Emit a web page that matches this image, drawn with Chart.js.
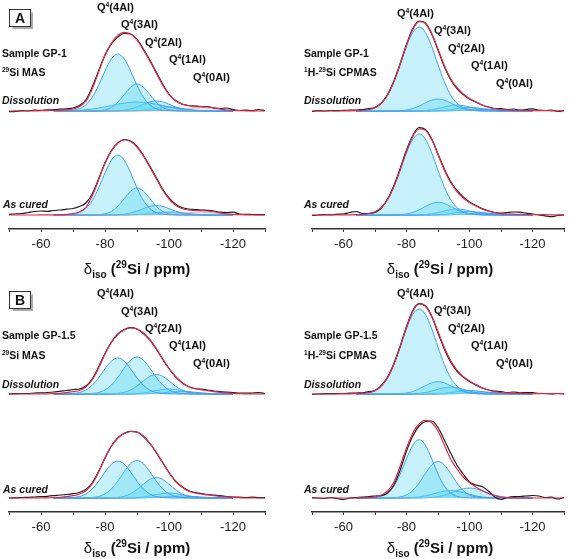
<!DOCTYPE html>
<html><head><meta charset="utf-8">
<script src="https://cdn.jsdelivr.net/npm/chart.js@4.4.1/dist/chart.umd.min.js"></script>
<style>
body{margin:0;background:#fff;}
#fig{position:relative;width:569px;height:559px;overflow:hidden;font-family:"Liberation Sans",Arial,sans-serif;color:#111;}
canvas{position:absolute;}
.t{position:absolute;white-space:nowrap;transform:translateY(-50%);line-height:1;}
.q{font-size:11px;font-weight:bold;}
.s{font-size:10.5px;font-weight:bold;}
.i{font-size:10.5px;font-weight:bold;font-style:italic;}
.sp{font-size:0.62em;position:relative;top:-0.55em;}
.box{position:absolute;width:20px;height:16px;border:1.5px solid #333;box-shadow:1.5px 1.5px 1px #aaa;font:bold 14px "Liberation Sans",Arial,sans-serif;text-align:center;line-height:16px;}
.ax{position:absolute;transform:translate(-50%,-50%);font-size:15px;font-weight:bold;white-space:nowrap;line-height:1;}
.ax .d{font-weight:normal;}
.ax .lo{font-size:10px;position:relative;top:4px;}
.ax .hi{font-size:10px;position:relative;top:-6px;}
</style></head>
<body>
<div id="fig">
  <canvas id="a1" width="285" height="280" style="left:0;top:0"></canvas>
  <canvas id="a2" width="284" height="280" style="left:285px;top:0"></canvas>
  <canvas id="b1" width="285" height="279" style="left:0;top:280px"></canvas>
  <canvas id="b2" width="284" height="279" style="left:285px;top:280px"></canvas>

  <div class="box" style="left:9px;top:9px">A</div>
  <div class="box" style="left:9px;top:291px">B</div>

  <!-- A left -->
  <div class="t q" style="left:97px;top:6.5px">Q<span class="sp">4</span>(4Al)</div>
  <div class="t q" style="left:121px;top:24px">Q<span class="sp">4</span>(3Al)</div>
  <div class="t q" style="left:145px;top:41.5px">Q<span class="sp">4</span>(2Al)</div>
  <div class="t q" style="left:169px;top:59px">Q<span class="sp">4</span>(1Al)</div>
  <div class="t q" style="left:193px;top:76.5px">Q<span class="sp">4</span>(0Al)</div>
  <div class="t s" style="left:2px;top:52.5px">Sample GP-1</div>
  <div class="t s" style="left:2px;top:72px"><span class="sp">29</span>Si MAS</div>
  <div class="t i" style="left:2px;top:99.5px">Dissolution</div>
  <div class="t i" style="left:3px;top:204px">As cured</div>

  <!-- A right -->
  <div class="t q" style="left:397px;top:13px">Q<span class="sp">4</span>(4Al)</div>
  <div class="t q" style="left:434px;top:30px">Q<span class="sp">4</span>(3Al)</div>
  <div class="t q" style="left:448px;top:47.5px">Q<span class="sp">4</span>(2Al)</div>
  <div class="t q" style="left:471px;top:65px">Q<span class="sp">4</span>(1Al)</div>
  <div class="t q" style="left:496px;top:83px">Q<span class="sp">4</span>(0Al)</div>
  <div class="t s" style="left:304px;top:52.5px">Sample GP-1</div>
  <div class="t s" style="left:304px;top:72px"><span class="sp">1</span>H-<span class="sp">29</span>Si CPMAS</div>
  <div class="t i" style="left:304px;top:99.5px">Dissolution</div>
  <div class="t i" style="left:304px;top:204px">As cured</div>

  <!-- B left -->
  <div class="t q" style="left:97px;top:293px">Q<span class="sp">4</span>(4Al)</div>
  <div class="t q" style="left:121px;top:310.5px">Q<span class="sp">4</span>(3Al)</div>
  <div class="t q" style="left:145px;top:328px">Q<span class="sp">4</span>(2Al)</div>
  <div class="t q" style="left:169px;top:345px">Q<span class="sp">4</span>(1Al)</div>
  <div class="t q" style="left:193px;top:363px">Q<span class="sp">4</span>(0Al)</div>
  <div class="t s" style="left:2px;top:335px">Sample GP-1.5</div>
  <div class="t s" style="left:2px;top:355px"><span class="sp">29</span>Si MAS</div>
  <div class="t i" style="left:2px;top:383.5px">Dissolution</div>
  <div class="t i" style="left:3px;top:488.5px">As cured</div>

  <!-- B right -->
  <div class="t q" style="left:397px;top:293px">Q<span class="sp">4</span>(4Al)</div>
  <div class="t q" style="left:434px;top:310px">Q<span class="sp">4</span>(3Al)</div>
  <div class="t q" style="left:448px;top:328px">Q<span class="sp">4</span>(2Al)</div>
  <div class="t q" style="left:471px;top:345px">Q<span class="sp">4</span>(1Al)</div>
  <div class="t q" style="left:496px;top:363px">Q<span class="sp">4</span>(0Al)</div>
  <div class="t s" style="left:304px;top:335px">Sample GP-1.5</div>
  <div class="t s" style="left:304px;top:355px"><span class="sp">1</span>H-<span class="sp">29</span>Si CPMAS</div>
  <div class="t i" style="left:304px;top:383.5px">Dissolution</div>
  <div class="t i" style="left:304px;top:488.5px">As cured</div>

  <div class="ax" style="left:137px;top:267.5px"><span class="d">δ</span><span class="lo">iso</span> (<span class="hi">29</span>Si / ppm)</div>
  <div class="ax" style="left:440px;top:267.5px"><span class="d">δ</span><span class="lo">iso</span> (<span class="hi">29</span>Si / ppm)</div>
  <div class="ax" style="left:137px;top:547px"><span class="d">δ</span><span class="lo">iso</span> (<span class="hi">29</span>Si / ppm)</div>
  <div class="ax" style="left:440px;top:547px"><span class="d">δ</span><span class="lo">iso</span> (<span class="hi">29</span>Si / ppm)</div>
</div>

<script>
/* ---- chemical shift grids (ppm) ---- */
const ppmGrid = [-50,-52,-54,-56,-58,-60,-62,-64,-66,-68,-70,-72,-74,-76,-78,-80,-82,-84,-86,-88,-90,-92,-94,-96,-98,-100,-102,-104,-106,-108,-110,-112,-114,-116,-118,-120,-122,-124,-126,-128,-130];
const compGrid = [-64,-66,-68,-70,-72,-74,-76,-78,-80,-82,-84,-86,-88,-90,-92,-94,-96,-98,-100,-102,-104,-106,-108,-110,-112,-114,-116,-118,-120];
const xTicks = [-60,-80,-100,-120];

/* ---- GP-1, 29Si MAS ---- */
const gp1MasDissExp = [-0.7,-0.3,0.3,0.2,0.8,0.6,1.2,1.3,1.8,2.2,3,5.5,11,24,40,56,67,74,77.5,77,71.5,62,51,39,27,17,10.5,7,5.5,5,4.5,4.5,3,2.5,3,1.5,0.5,0.8,0.3,1.5,0.5];
const gp1MasDissFit = [0,0,0,0,0.1,0.3,0.4,0.6,0.8,1.2,2,4.5,9.5,22,39,56,68,75.5,78.7,77,71,61,50,38,26,16.5,10.5,7,5.3,4.6,4.3,4,3.2,2,1,0.5,0.3,0.2,0.1,0,0];
const gp1MasDissComps = [
  [0,0,0.2,0.7,2.3,6.2,13.8,25.7,40,52.2,57,52.2,40,25.7,13.8,6.2,2.3,0.7,0.2,0,0,0,0,0,0,0,0,0,0],
  [0,0,0,0,0,0,0,0.3,1.2,3.6,8.8,16.4,23.8,27,23.8,16.4,8.8,3.6,1.2,0.3,0,0,0,0,0,0,0,0,0],
  [0,0.1,0.2,0.4,0.7,1.2,1.9,2.9,4.1,5.5,6.8,7.9,8.7,9,8.7,7.9,6.8,5.5,4.1,2.9,1.9,1.2,0.7,0.4,0.2,0.1,0,0,0],
  [0,0,0,0,0,0,0,0,0,0.1,0.3,0.9,2.1,4.1,6.7,9.1,10,9.1,6.7,4.1,2.1,0.9,0.3,0.1,0,0,0,0,0],
  [0,0,0,0,0,0,0,0,0,0,0,0,0.1,0.3,0.8,1.6,2.7,3.6,4,3.6,2.7,1.6,0.8,0.3,0.1,0,0,0,0]
];
const gp1MasDissTail = [0,0,0,0,0,0,0,0,0,0,0,0,0,0,0,0,0.1,0.2,0.5,1,1.7,2.5,3.2,3.5,3.2,2.5,1.7,1,0.5];
const gp1MasCuredExp = [0.7,1,1.5,2.5,3.5,4,3.6,4.5,5,5.8,6.5,8.5,12,21,36,52,64,72,75.5,74,68.5,59.5,49,37.5,26,17,11,7.5,6,5.5,5,4.7,4,2.8,2.5,2.8,1,0.7,0.5,0.3,0.3];
const gp1MasCuredFit = [0,0,0,0,0,0.1,0.2,0.2,0.3,0.6,1.3,3,7.5,19,35,52,64.5,72,75,73.5,68,59,48,36.5,25,16,10,6.5,5,4.5,4.3,4,3.3,2.2,1.2,0.6,0.3,0.1,0,0,0];
const gp1MasCuredComps = [
  [0,0,0.2,0.8,2.5,6.5,14.5,27,42.1,54.9,60,54.9,42.1,27,14.5,6.5,2.5,0.8,0.2,0,0,0,0,0,0,0,0,0,0],
  [0,0,0,0,0,0,0,0.3,1.2,3.6,8.8,16.4,23.8,27,23.8,16.4,8.8,3.6,1.2,0.3,0,0,0,0,0,0,0,0,0],
  [0,0,0,0,0,0,0,0,0,0.1,0.3,0.8,2,3.9,6.4,8.6,9.5,8.6,6.4,3.9,2,0.8,0.3,0.1,0,0,0,0,0],
  [0,0,0,0,0,0,0,0,0,0,0,0,0.2,0.4,0.8,1.5,2.2,2.8,3,2.8,2.2,1.5,0.8,0.4,0.2,0,0,0,0]
];
const gp1MasCuredTail = [0,0,0,0,0,0,0,0,0,0,0,0,0,0,0,0,0.1,0.2,0.4,0.9,1.5,2.2,2.8,3,2.8,2.2,1.5,0.9,0.4];

/* ---- GP-1, 1H-29Si CPMAS ---- */
const gp1CpDissExp = [-0.5,0.3,0,0.5,0.3,0.7,0.8,1,1.5,2.5,3.5,8,16.5,30,47.5,66.5,82.5,90,88,77,61,44.5,31.5,22.5,16.5,12,9,6,4,2.5,2.5,1.5,2,0.8,1.5,2.2,0.8,0.5,1,-0.5,0.5];
const gp1CpDissFit = [0,0,0,0,0,0.1,0.2,0.4,0.7,1.5,3.4,7.8,16,29.5,47,66,81.5,89.3,87.8,77.5,62,45.5,32.5,23.5,17,12.5,9,6,3.8,2.3,1.4,1,0.8,0.6,0.5,0.4,0.3,0.3,0.2,0.2,0.2];
const gp1CpDissComps = [
  [0.1,0.4,1.3,3.3,7.8,16,29.1,46.4,64.5,78.6,84,78.6,64.5,46.4,29.1,16,7.8,3.3,1.3,0.4,0.1,0,0,0,0,0,0,0,0],
  [0,0,0,0,0,0,0.1,0.3,1,2.5,4.9,8.1,10.9,12,10.9,8.1,4.9,2.5,1,0.3,0.1,0,0,0,0,0,0,0,0],
  [0,0,0,0,0,0,0,0,0,0,0.2,0.5,1.2,2.5,4,5.4,6,5.4,4,2.5,1.2,0.5,0.2,0,0,0,0,0,0],
  [0,0,0,0,0,0,0,0,0,0,0,0,0.1,0.3,0.7,1.4,2.4,3.2,3.5,3.2,2.4,1.4,0.7,0.3,0.1,0,0,0,0],
  [0,0,0,0,0,0,0,0,0,0,0,0,0,0,0,0.2,0.4,0.8,1.3,1.8,2,1.8,1.3,0.8,0.4,0.2,0,0,0]
];
const gp1CpCuredExp = [-0.5,0,0.3,0.2,0.8,1,2.5,3.5,1.5,1.5,2.5,7,16,29.5,46.5,65,79.5,87.3,85.5,76,61,46,33.5,24.5,18,13,9.5,6.5,4.3,2.5,1.8,2.5,3,2.8,1.8,1,0,-0.8,-1.7,-0.5,0];
const gp1CpCuredFit = [0,0,0,0,0,0.1,0.2,0.4,0.7,1.5,3.3,7.5,15.5,28.5,45.5,63.5,78.5,86,84.8,75.5,60.5,45,32.5,23.5,17,12.5,9,6,3.8,2.3,1.4,1,0.8,0.6,0.5,0.4,0.3,0.3,0.2,0.2,0.2];
const gp1CpCuredComps = [
  [0.1,0.4,1.2,3.2,7.5,15.5,28.1,44.7,62.2,75.8,81,75.8,62.2,44.7,28.1,15.5,7.5,3.2,1.2,0.4,0.1,0,0,0,0,0,0,0,0],
  [0,0,0,0,0,0,0.1,0.4,1.1,2.6,5.2,8.6,11.5,12.7,11.5,8.6,5.2,2.6,1.1,0.4,0.1,0,0,0,0,0,0,0,0],
  [0,0,0,0,0,0,0,0,0,0,0.2,0.5,1.2,2.5,4,5.4,6,5.4,4,2.5,1.2,0.5,0.2,0,0,0,0,0,0],
  [0,0,0,0,0,0,0,0,0,0,0,0,0.1,0.3,0.7,1.4,2.4,3.2,3.5,3.2,2.4,1.4,0.7,0.3,0.1,0,0,0,0],
  [0,0,0,0,0,0,0,0,0,0,0,0,0,0,0,0.2,0.4,0.8,1.3,1.8,2,1.8,1.3,0.8,0.4,0.2,0,0,0]
];

/* ---- GP-1.5, 29Si MAS ---- */
const gp15MasDissExp = [0,0.3,0.5,0.5,1,1.2,1.5,2,2.8,3.5,4.5,5,8,15,27,40.5,52,60,64.5,66.3,65,60.5,54,45,35,25.5,17.5,11.5,7.5,5.5,4.8,4,3,2.5,1.8,1.5,1,0.8,1,1.3,0.5];
const gp15MasDissFit = [0,0,0,0,0,0,0.2,0.4,0.7,1.3,2.3,3.5,7,14,26,40,51.5,59.5,64,66,65,61,54.5,45.5,35,25.5,17.5,11.5,7.5,5.3,4.3,3.3,2.4,1.7,1.1,0.6,0.3,0.1,0,0,0];
const gp15MasDissComps = [
  [0,0,0.1,0.5,1.5,3.9,8.7,16.2,25.2,32.9,36,32.9,25.2,16.2,8.7,3.9,1.5,0.5,0.1,0,0,0,0,0,0,0,0,0,0],
  [0,0,0,0,0,0.1,0.5,1.5,4,9,16.7,25.9,33.9,37,33.9,25.9,16.7,9,4,1.5,0.5,0.1,0,0,0,0,0,0,0],
  [0,0,0,0,0,0,0,0,0,0.2,0.6,1.7,4,8,13.1,17.7,19.5,17.7,13.1,8,4,1.7,0.6,0.2,0,0,0,0,0],
  [0,0,0,0,0,0,0,0,0,0,0,0,0.1,0.4,1,2.1,3.4,4.5,5,4.5,3.4,2.1,1,0.4,0.1,0,0,0,0],
  [0,0,0,0,0,0,0,0,0,0,0,0,0,0,0.1,0.3,0.7,1.2,1.8,2.3,2.5,2.3,1.8,1.2,0.7,0.3,0.1,0,0]
];
const gp15MasCuredExp = [0,0.2,0.5,0.7,1,1.3,1.7,2.3,3,3.5,4.3,5.5,8.5,15,26.5,40,52,60,64.7,66.7,66,61.5,54.5,45.5,35.5,25.5,17,11.5,7.5,5.5,4.5,3.5,2.8,2.3,1.5,1,0.8,0.5,0.8,0.3,0.3];
const gp15MasCuredFit = [0,0,0,0,0,0,0.2,0.4,0.7,1.3,2.3,3.8,7,14,26,40,52,60,64.5,66.5,66,62,55,46,35.5,25.5,17,11,7,5,4,3.2,2.4,1.7,1.1,0.6,0.3,0,0,0,0];
const gp15MasCuredComps = [
  [0,0,0.1,0.5,1.5,4,9,16.7,25.9,33.9,37,33.9,25.9,16.7,9,4,1.5,0.5,0.1,0,0,0,0,0,0,0,0,0,0],
  [0,0,0,0,0,0.1,0.5,1.5,4.1,9.1,16.9,26.3,34.3,37.5,34.3,26.3,16.9,9.1,4.1,1.5,0.5,0.1,0,0,0,0,0,0,0],
  [0,0,0,0,0,0,0,0,0,0.2,0.6,1.7,4.2,8.4,13.8,18.6,20.5,18.6,13.8,8.4,4.2,1.7,0.6,0.2,0,0,0,0,0],
  [0,0,0,0,0,0,0,0,0,0,0,0,0.1,0.4,1,2.1,3.4,4.5,5,4.5,3.4,2.1,1,0.4,0.1,0,0,0,0],
  [0,0,0,0,0,0,0,0,0,0,0,0,0,0,0.1,0.3,0.6,1,1.5,1.8,2,1.8,1.5,1,0.6,0.3,0.1,0,0]
];

/* ---- GP-1.5, 1H-29Si CPMAS ---- */
const gp15CpDissExp = [-0.3,0,0.3,0.3,0.5,0.5,0.8,1,1.2,2.5,3.5,8.5,17,30.5,48,67.5,83.5,90.3,88,77.5,61,45,32,23,17,12.5,9,6,4,2.8,2.5,1.5,2,1.2,1.5,1.5,0.5,0.5,0,0.5,0.2];
const gp15CpDissFit = [0,0,0,0,0,0.1,0.2,0.4,0.7,1.5,3.4,8,16.3,29.8,47.5,66.5,82.5,90,88,78,62.5,46.5,33.5,24,17.5,13,9.5,6.2,4,2.4,1.5,1.1,0.8,0.6,0.5,0.4,0.3,0.3,0.3,0.3,0.3];
const gp15CpDissComps = [
  [0.1,0.4,1.3,3.3,7.9,16.2,29.5,46.9,65.3,79.6,85,79.6,65.3,46.9,29.5,16.2,7.9,3.3,1.3,0.4,0.1,0,0,0,0,0,0,0,0],
  [0,0,0,0,0,0,0.1,0.4,1,2.5,5.1,8.3,11.1,12.3,11.1,8.3,5.1,2.5,1,0.4,0.1,0,0,0,0,0,0,0,0],
  [0,0,0,0,0,0,0,0,0,0.2,0.6,1.4,2.9,4.7,6.3,7,6.3,4.7,2.9,1.4,0.6,0.2,0,0,0,0,0,0,0],
  [0,0,0,0,0,0,0,0,0,0,0,0,0.1,0.3,0.7,1.4,2.4,3.2,3.5,3.2,2.4,1.4,0.7,0.3,0.1,0,0,0,0],
  [0,0,0,0,0,0,0,0,0,0,0,0,0,0,0,0.2,0.4,0.8,1.3,1.8,2,1.8,1.3,0.8,0.4,0.2,0,0,0]
];
const gp15CpCuredExp = [0.3,0,-0.5,0.5,-0.5,-1.5,0,0.5,0.8,1.5,2,2.5,5,13,28,47,62,72,76.5,77,70.5,58,45,33,24,16,13,11.5,7,1,-1.5,0.5,1.5,1.5,2,2.5,2,0.5,0.8,-1,0.5];
const gp15CpCuredFit = [0,0,0,0,0,0,0,0,0.2,0.5,1,3,7,16,32,50,65,74,77.7,75.5,67,53,39,29,21,15.5,11,7.5,4.5,2.3,1,0.4,0.1,0,0,0,0,0,0,0,0];
const gp15CpCuredComps = [
  [0,0,0.1,0.5,1.7,5,12,24,39.3,52.8,58.3,52.8,39.3,24,12,5,1.7,0.5,0.1,0,0,0,0,0,0,0,0,0,0],
  [0,0,0,0,0,0.1,0.3,1.1,3.1,7.5,15,24.6,33.1,36.5,33.1,24.6,15,7.5,3.1,1.1,0.3,0.1,0,0,0,0,0,0,0],
  [0,0,0,0,0,0,0,0,0.2,0.4,1,2.1,3.7,5.4,6.9,7.5,6.9,5.4,3.7,2.1,1,0.4,0.2,0,0,0,0,0,0],
  [0,0,0,0,0,0,0,0,0,0,0,0.2,0.6,1.4,2.8,4.9,7.3,9.2,10,9.2,7.3,4.9,2.8,1.4,0.6,0.2,0,0,0]
];

/* ---- styling ---- */
const BLUE = '#3f9ef2', FILL = 'rgba(86,212,240,0.33)', RED = '#e5284a', BLACK = '#1b1b1b';
const GREY = 'rgba(150,150,150,0.7)', GREY_FILL = 'rgba(170,170,170,0.25)';
const OFFSET = 104, Y_MIN = -14;

const pts = (xs, ys, base) => xs.map((x, i) => ({ x, y: ys[i] + base }));

function spectrumSets(exp, fit, comps, tail, base) {
  const sets = comps.map(c => ({
    data: pts(compGrid, c, base), borderColor: BLUE, borderWidth: 1,
    backgroundColor: FILL, fill: { value: base }, order: 3
  }));
  if (tail) sets.push({ data: pts(compGrid, tail, base), borderColor: GREY, borderWidth: 0.8,
    backgroundColor: GREY_FILL, fill: { value: base }, order: 2 });
  sets.push({ data: pts(ppmGrid, exp, base), borderColor: BLACK, borderWidth: 1.2, fill: false, order: 1 });
  sets.push({ data: pts(ppmGrid, fit, base), borderColor: RED, borderWidth: 1.2, fill: false, order: 0 });
  return sets;
}

function panel(id, sets, padL, padR, axisH) {
  const cv = document.getElementById(id);
  const yMax = cv.height - axisH + Y_MIN;
  new Chart(cv, {
    type: 'line',
    data: { datasets: sets },
    options: {
      responsive: false, animation: false, devicePixelRatio: 1,
      layout: { padding: { left: padL, right: padR, top: 0, bottom: 0 } },
      elements: { point: { radius: 0 }, line: { cubicInterpolationMode: 'monotone' } },
      plugins: { legend: { display: false }, tooltip: { enabled: false } },
      scales: {
        x: {
          type: 'linear', min: -130, max: -50, reverse: true,
          border: { display: true, color: '#333', width: 1.5 },
          grid: { drawOnChartArea: false, drawTicks: true, tickLength: 3, color: '#333', lineWidth: 1 },
          ticks: { stepSize: 10, autoSkip: false, maxRotation: 0, padding: 5, color: '#222',
            font: { family: "'Liberation Sans', Arial, sans-serif", size: 13 },
            callback: v => xTicks.includes(v) ? String(v) : '' },
          afterFit(s) { s.height = axisH; }
        },
        y: { display: false, min: Y_MIN, max: yMax }
      }
    }
  });
}

panel('a1', [...spectrumSets(gp1MasDissExp, gp1MasDissFit, gp1MasDissComps, gp1MasDissTail, OFFSET),
             ...spectrumSets(gp1MasCuredExp, gp1MasCuredFit, gp1MasCuredComps, gp1MasCuredTail, 0)], 9, 20, 51);
panel('a2', [...spectrumSets(gp1CpDissExp, gp1CpDissFit, gp1CpDissComps, null, OFFSET),
             ...spectrumSets(gp1CpCuredExp, gp1CpCuredFit, gp1CpCuredComps, null, 0)], 27, 1, 51);
panel('b1', [...spectrumSets(gp15MasDissExp, gp15MasDissFit, gp15MasDissComps, null, OFFSET),
             ...spectrumSets(gp15MasCuredExp, gp15MasCuredFit, gp15MasCuredComps, null, 0)], 9, 20, 47);
panel('b2', [...spectrumSets(gp15CpDissExp, gp15CpDissFit, gp15CpDissComps, null, OFFSET),
             ...spectrumSets(gp15CpCuredExp, gp15CpCuredFit, gp15CpCuredComps, null, 0)], 27, 1, 47);
</script>
</body></html>
